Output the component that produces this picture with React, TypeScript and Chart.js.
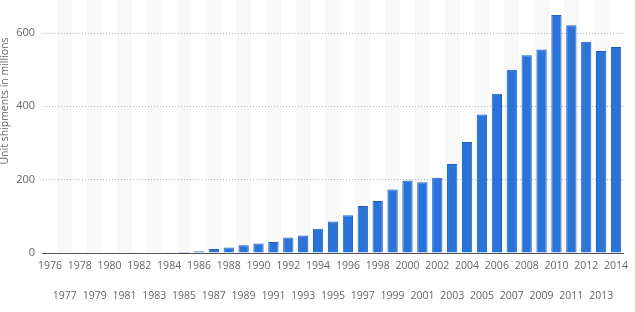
import React, { useEffect, useRef } from "react";
import { Chart, registerables } from "chart.js";

Chart.register(...registerables);

const years: string[] = [
  "1976", "1977", "1978", "1979", "1980", "1981", "1982", "1983", "1984", "1985",
  "1986", "1987", "1988", "1989", "1990", "1991", "1992", "1993", "1994", "1995",
  "1996", "1997", "1998", "1999", "2000", "2001", "2002", "2003", "2004", "2005",
  "2006", "2007", "2008", "2009", "2010", "2011", "2012", "2013", "2014",
];

const shipments: number[] = [
  0, 0, 0, 0, 0, 0, 0, 0, 2, 3,
  5, 11, 15, 21, 26, 30, 42, 48, 66, 86,
  103, 128, 142, 173, 198, 193, 205, 243, 303, 378,
  434, 500, 539, 555, 649, 621, 576, 551, 562,
];

const yTicks: number[] = [0, 200, 400, 600];
const yTitle = "Unit shipments in millions";

const stripesPlugin = {
  id: "stripes",
  beforeDraw(chart: any) {
    const { ctx, chartArea, scales } = chart;
    const x = scales.x;
    const w = x.width / years.length;
    ctx.save();
    ctx.fillStyle = "#f8f8f8";
    for (let i = 1; i < years.length; i += 2) {
      const c = x.getPixelForValue(i);
      ctx.fillRect(c - w / 2, 0, w, chartArea.bottom);
    }
    ctx.restore();
  },
};

const titlePlugin = {
  id: "ytitle",
  afterDraw(chart: any) {
    const { ctx } = chart;
    ctx.save();
    ctx.translate(5, 101);
    ctx.rotate(-Math.PI / 2);
    ctx.font = "10.5px 'Open Sans', sans-serif";
    ctx.fillStyle = "#666";
    ctx.textAlign = "center";
    ctx.textBaseline = "middle";
    ctx.fillText(yTitle, 0, 0);
    ctx.restore();
  },
};

export default function App() {
  const ref = useRef<HTMLCanvasElement | null>(null);

  useEffect(() => {
    if (!ref.current) return;
    const labels = years.map((y, i) => (i % 2 === 0 ? [y] : ["", "", y]));
    const chart = new Chart(ref.current, {
      type: "bar",
      data: {
        labels,
        datasets: [
          {
            data: shipments,
            backgroundColor: "#2a74d9",
            borderColor: "#1f5fbd",
            borderWidth: 1,
            barPercentage: 0.69,
            categoryPercentage: 1,
          },
        ],
      },
      options: {
        animation: false,
        responsive: false,
        maintainAspectRatio: false,
        layout: { padding: { left: 0, right: 11.5, top: 0, bottom: 0 } },
        plugins: {
          legend: { display: false },
          tooltip: { enabled: false },
        },
        scales: {
          x: {
            grid: { display: false, drawTicks: false },
            border: { display: true, color: "#555", width: 1 },
            ticks: {
              autoSkip: false,
              maxRotation: 0,
              minRotation: 0,
              color: "#666",
              padding: 5,
              font: { family: "'Open Sans', sans-serif", size: 10.5, lineHeight: 15.35 / 10.5 },
            },
            afterFit: (s: any) => {
              s.height = 59;
              s.paddingLeft = 0;
              s.paddingRight = 0;
            },
          },
          y: {
            min: 0,
            max: 690,
            afterBuildTicks: (s: any) => {
              s.ticks = yTicks.map((v) => ({ value: v }));
            },
            grid: {
              drawTicks: false,
              color: (c: any) => (c.tick && c.tick.value === 0 ? "rgba(0,0,0,0)" : "#b8b8b8"),
              lineWidth: 1,
            },
            border: { display: false, dash: [1, 2] },
            ticks: {
              color: "#666",
              padding: 7.5,
              font: { family: "'Open Sans', sans-serif", size: 11 },
            },
            afterFit: (s: any) => {
              s.width = 42.5;
              s.paddingTop = 0;
              s.paddingBottom = 0;
            },
          },
        },
      },
      plugins: [stripesPlugin, titlePlugin],
    });
    return () => chart.destroy();
  }, []);

  return (
    <div style={{ position: "fixed", left: 0, top: 0, width: 635, height: 312, background: "#fff" }}>
      <canvas ref={ref} width={635} height={312} style={{ width: 635, height: 312 }} />
    </div>
  );
}
